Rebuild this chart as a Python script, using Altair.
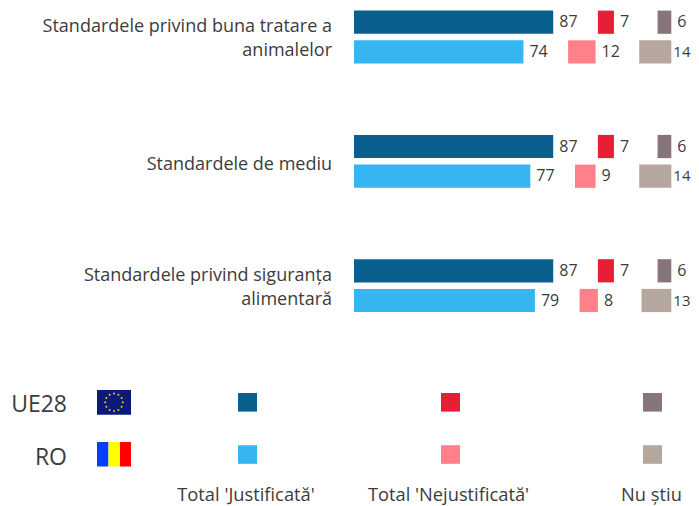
import math
import altair as alt
import pandas as pd

category_lines = [["Standardele privind buna tratare a", "animalelor"], ["Standardele de mediu"], ["Standardele privind siguranța", "alimentară"]]
series = ["UE28", "RO"]
justified = [[87, 74], [87, 77], [87, 79]]
unjustified = [[7, 12], [7, 9], [7, 8]]
dont_know = [[6, 14], [6, 14], [6, 13]]
legend_labels = ["Total 'Justificată'", "Total 'Nejustificată'", "Nu știu"]
COLORS = [["#0B5F8F", "#36B6F1"], ["#E71F34", "#FF8088"], ["#87757A", "#B5A69E"]]

FONT = "Open Sans"
TXT = "#3C3C3C"
W, H = 683, 497
PX_X0, PX_PER_UNIT = 354 - 8, 2.29          # x=0 in plot px, px per percent
PX_Y0, PX_ROW = 22.2 - 8, 29.7              # first row centre, row pitch
GROUP_ROWS = 124.3 / 29.7
GAPS = [19.5, 19.06]                        # spacers between the three stacked columns
HALF = 11.6 / PX_ROW

x_scale = alt.Scale(domain=[-PX_X0 / PX_PER_UNIT, (W - PX_X0) / PX_PER_UNIT], nice=False, zero=False)
y_scale = alt.Scale(domain=[(H - PX_Y0) / PX_ROW, -PX_Y0 / PX_ROW], nice=False, zero=False)

rows = []
for g in range(3):
    for s in range(2):
        start = 0
        for c, vals in enumerate([justified, unjustified, dont_know]):
            v = vals[g][s]
            r = g * GROUP_ROWS + s
            rows.append(dict(x=start, x2=start + v, v=v, y=r - HALF, y2=r + HALF, r=r, color=COLORS[c][s],
                             tight=(c == 2 and v >= 10)))
            if c < 2:
                start += v + GAPS[c]
df = pd.DataFrame(rows)

X = alt.X("x:Q", scale=x_scale, axis=None)
Y = alt.Y("y:Q", scale=y_scale, axis=None)
bars = alt.Chart(df).mark_rect().encode(X, x2="x2:Q", y=Y, y2="y2:Q", color=alt.Color("color:N", scale=None))
val_enc = dict(x=alt.X("x2:Q", scale=x_scale, axis=None), y=alt.Y("r:Q", scale=y_scale, axis=None), text="v:Q")
values = alt.Chart(df[~df.tight]).mark_text(align="left", baseline="middle", dx=6, font=FONT, fontSize=16, color=TXT).encode(**val_enc)
values_tight = alt.Chart(df[df.tight]).mark_text(align="left", baseline="middle", dx=2, font=FONT, fontSize=15, color=TXT).encode(**val_enc)

layers = [bars, values, values_tight]
one = pd.DataFrame({"a": [0]})


def box(x0, x1, y0, y1, color):
    return alt.Chart(one).mark_rect(color=color).encode(
        x=alt.value(x0 - 8), x2=alt.value(x1 - 8), y=alt.value(y0 - 8), y2=alt.value(y1 - 8))


def label(x, y, text, size, align):
    return alt.Chart(one).mark_text(text=text, align=align, baseline="middle", font=FONT, fontSize=size, color=TXT).encode(
        x=alt.value(x - 8), y=alt.value(y - 8))


line_y = [[27, 51], [165], [276, 300]]
for lines, ys in zip(category_lines, line_y):
    for line, y in zip(lines, ys):
        layers.append(label(332, y, line, 18, "right"))

for s, (yc, name) in enumerate(zip([402.3, 454.5], series)):
    layers.append(label(67, yc + 3, name, 23, "right"))
    for c, xl in enumerate([238, 441, 643]):
        layers.append(box(xl, xl + 19, yc - 9.3, yc + 9.3, COLORS[c][s]))

layers.append(box(97, 131, 390, 414.7, "#0B1A78"))
for k in range(12):
    a = k * math.pi / 6
    layers.append(alt.Chart(one).mark_point(filled=True, shape="circle", size=4, color="#E0CC20", opacity=1).encode(
        x=alt.value(114 - 8 + 8.8 * math.cos(a)), y=alt.value(402.3 - 8 + 8.8 * math.sin(a))))
layers += [box(97, 108.5, 442, 466.5, "#0A3CFF"), box(108.5, 120, 442, 466.5, "#FFFF00"), box(120, 131, 442, 466.5, "#FF0000")]

for xc, t in zip([246, 448.5, 651.5], legend_labels):
    layers.append(label(xc, 496, t, 18.3, "center"))

chart = alt.layer(*layers).properties(
    width=W, height=H, padding=0, autosize=alt.AutoSizeParams(type="none"), background="white"
).configure_view(stroke=None)

chart.save("out.html", embed_options={"renderer": "svg", "actions": False})
